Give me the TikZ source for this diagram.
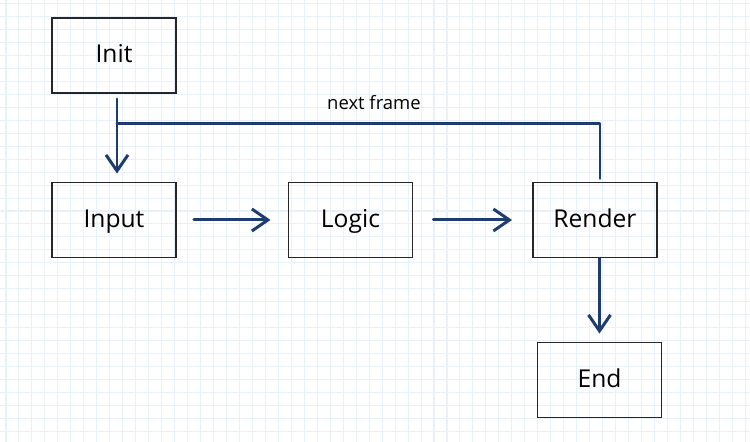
\documentclass[tikz,border=0pt]{standalone}
\usepackage{fontspec}
\setmainfont{Open Sans}
\usetikzlibrary{arrows.meta}
\definecolor{flowblue}{HTML}{1E3D6E}
\definecolor{gridblue}{HTML}{E8F0FA}
\tikzset{
    stage/.style={draw=black!85,line width=1.1pt,minimum width=2.48cm,minimum height=1.5cm,text height=2ex,text depth=0.5ex,font=\fontsize{14}{16}\selectfont},
    flow/.style={flowblue,line width=1.7pt,line cap=round,line join=round},
    flowarrow/.style={flow,-{Straight Barb[length=0.32cm,width=0.44cm,line width=1.7pt]}}
}
\begin{document}
\begin{tikzpicture}
                \useasboundingbox (0,0) rectangle (15,8.84);
                \fill[white] (0,0) rectangle (15,8.84);
                \begin{scope}[shift={(0.12,0.21)}]
                    \draw[gridblue,line width=0.6pt,step=0.2594] (-0.12,-0.21) grid (14.88,8.63);
                \end{scope}
                \node[stage] (init) at (2.28,7.73) {Init};
                \node[stage] (input) at (2.28,4.44) {Input};
                \node[stage] (logic) at (7.01,4.44) {Logic};
                \node[stage] (render) at (11.9,4.44) {Render};
                \node[stage] (end) at (11.99,1.24) {End};
                \coordinate (join) at (2.34,6.37);
                \draw[flowarrow,shorten <=0.1cm,shorten >=0.16cm] ([xshift=0.06cm]init.south) -- ([xshift=0.06cm]input.north);
                \draw[flow] ([xshift=0.1cm,yshift=0.06cm]render.north) |- (join) node[pos=0.734,above=0.12cm,black,font=\fontsize{10.5}{12}\selectfont] (loop) {next frame};
                \draw[flowarrow,shorten <=0.34cm,shorten >=0.34cm] (input) -- (logic);
                \draw[flowarrow,shorten <=0.4cm,shorten >=0.4cm] (logic) -- (render);
                \draw[flowarrow,shorten >=0.16cm] (end.north |- render.south) -- (end.north);
            \end{tikzpicture}
\end{document}
